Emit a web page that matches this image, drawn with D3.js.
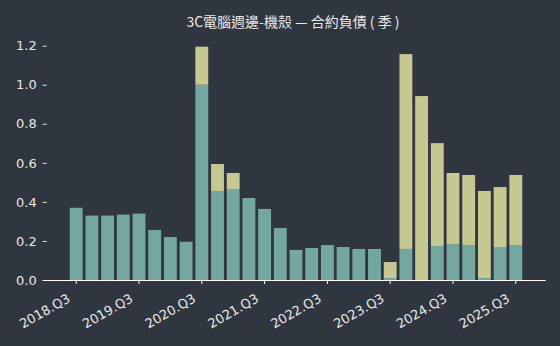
<!DOCTYPE html>
<html><head><meta charset="utf-8">
<script src="https://cdn.jsdelivr.net/npm/d3@7"></script>
<style>
html,body{margin:0;padding:0;background:#2f3640;}
svg{display:block;}
</style></head>
<body>
<svg id="chart" width="560" height="346"></svg>
<script>
const quarters = ["2018.Q3","2018.Q4","2019.Q1","2019.Q2","2019.Q3","2019.Q4","2020.Q1","2020.Q2","2020.Q3","2020.Q4","2021.Q1","2021.Q2","2021.Q3","2021.Q4","2022.Q1","2022.Q2","2022.Q3","2022.Q4","2023.Q1","2023.Q2","2023.Q3","2023.Q4","2024.Q1","2024.Q2","2024.Q3","2024.Q4","2025.Q1","2025.Q2","2025.Q3"];
const seriesA = [0.37,0.33,0.33,0.335,0.34,0.256,0.22,0.196,1.0,0.456,0.466,0.42,0.364,0.266,0.154,0.164,0.179,0.169,0.159,0.159,0.01,0.159,0.0,0.174,0.184,0.179,0.01,0.169,0.179];
const seriesB = [0,0,0,0,0,0,0,0,0.195,0.138,0.082,0,0,0,0,0,0,0,0,0,0.082,0.998,0.942,0.527,0.364,0.359,0.446,0.307,0.359];
const yTicks = [0.0,0.2,0.4,0.6,0.8,1.0,1.2];
const xTickLabels = ["2018.Q3","2019.Q3","2020.Q3","2021.Q3","2022.Q3","2023.Q3","2024.Q3","2025.Q3"];
const title = "3C電腦週邊-機殼 — 合約負債 ( 季 )";

const svg = d3.select("#chart");
const bg = "#2f3640", colA = "#74a7a0", colB = "#c6c891", fg = "#e8e8e8";
svg.append("rect").attr("width",560).attr("height",346).attr("fill",bg);

const x = d3.scaleBand().domain(quarters).range([68.35, 523.65]).paddingInner(0.18).paddingOuter(0.09);
const y = d3.scaleLinear().domain([0,1.2]).range([280,45.7]);

const data = quarters.map((q,i)=>({q, a:seriesA[i], b:seriesB[i]}));
const stack = d3.stack().keys(["a","b"])(data);
const cols = [colA, colB];
svg.append("g").selectAll("g").data(stack).join("g").attr("fill",(d,i)=>cols[i])
  .selectAll("rect").data(d=>d).join("rect")
  .attr("x",d=>x(d.data.q)).attr("width",x.bandwidth())
  .attr("y",d=>y(d[1])).attr("height",d=>Math.max(0,y(d[0])-y(d[1])));

// y axis
const ya = svg.append("g").attr("transform","translate(42.7,0)")
  .call(d3.axisRight(y).tickValues(yTicks).tickFormat(d3.format(".1f")).tickSize(4).tickPadding(0));
ya.select(".domain").remove();
ya.selectAll(".tick line").attr("stroke",fg);
ya.selectAll(".tick text").attr("x",-6).attr("text-anchor","end").attr("fill",fg)
  .style("font-family","DejaVu Sans").style("font-size","13px");

// x axis
const xa = svg.append("g").attr("transform","translate(0,280)")
  .call(d3.axisBottom(x).tickValues(xTickLabels).tickSize(4).tickSizeOuter(0));
xa.select(".domain").attr("d","M42.7,0.5H545.7").attr("stroke","#ffffff").attr("stroke-width",1.2);
xa.selectAll(".tick line").attr("stroke","#ffffff");
xa.selectAll(".tick text").attr("fill",fg).style("font-family","DejaVu Sans").style("font-size","13px")
  .attr("text-anchor","end").attr("y",0).attr("dy","0")
  .attr("transform","translate(-5,21) rotate(-30)");

svg.append("text").attr("x",293).attr("y",27).attr("text-anchor","middle").attr("fill",fg)
  .style("font-family","'Noto Sans CJK TC','Noto Sans CJK SC',sans-serif").style("font-size","14px").text(title);
</script>
</body></html>
